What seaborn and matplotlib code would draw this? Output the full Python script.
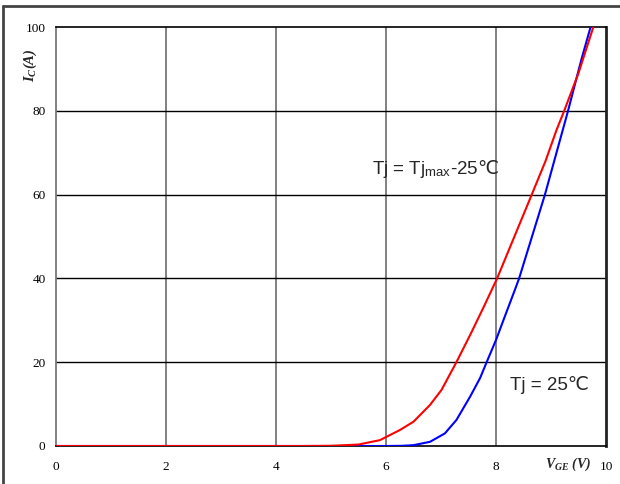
import numpy as np
import pandas as pd
import matplotlib
matplotlib.use("Agg")
import matplotlib.pyplot as plt
from matplotlib.lines import Line2D
import seaborn as sns

# transfer characteristic
vge_hot = [0, 4.5, 5.0, 5.5, 5.89, 6.01, 6.25, 6.5, 6.8, 7.01, 7.28, 7.53, 7.77,
           8.02, 8.65, 8.9, 9.1, 9.24, 9.5, 9.77]
ic_hot = [0, 0, 0.05, 0.35, 1.4, 2.2, 3.8, 5.8, 9.8, 13.4, 20, 26.5, 33,
          40, 60, 68, 75.4, 80, 89, 100]

vge_25 = [0, 6.0, 6.3, 6.5, 6.8, 7.07, 7.28, 7.53, 7.71, 7.83, 8.0, 8.16, 8.35, 8.42,
          8.89, 9.31, 9.56, 9.72]
ic_25 = [0, 0, 0.05, 0.2, 1.0, 3.0, 6.2, 11.8, 16.2, 20, 25.3, 30.9, 37.5, 40,
         60, 80, 92.6, 100]

xticks = [0, 2, 4, 6, 8, 10]
yticks = [0, 20, 40, 60, 80, 100]

sns.set_style("white")
plt.rcParams["font.family"] = ["Liberation Serif", "DejaVu Serif"]
plt.rcParams["mathtext.fontset"] = "custom"
plt.rcParams["mathtext.it"] = "Liberation Serif:italic:bold"
plt.rcParams["mathtext.rm"] = "Liberation Sans"

fig = plt.figure(figsize=(6.2, 4.84), dpi=100)
ax = fig.add_axes([56 / 620, 1 - 446 / 484, 550 / 620, 419 / 484])

hot = pd.DataFrame({"V": vge_hot, "I": ic_hot})
cold = pd.DataFrame({"V": vge_25, "I": ic_25})

# grid
for x in xticks[1:-1]:
    ax.axvline(x, color="#777777", lw=1.3, zorder=1)
for y in yticks[1:-1]:
    ax.axhline(y, color="black", lw=1.0, zorder=1)

sns.lineplot(data=cold, x="V", y="I", color="#0000ff", lw=1.5, ax=ax, zorder=3)
sns.lineplot(data=hot, x="V", y="I", color="#ff0000", lw=1.5, ax=ax, zorder=4)

ax.set_xlim(0, 10)
ax.set_ylim(0, 100)
ax.set_xticks(xticks)
ax.set_yticks(yticks)
ax.tick_params(length=0, labelsize=9.5, colors="black")
ax.tick_params(axis="x", pad=11)
ax.tick_params(axis="y", pad=7.5)
ax.set_xlabel("")
ax.set_ylabel("")

ax.spines["left"].set_color("#777777")
ax.spines["left"].set_linewidth(1.3)
ax.spines["bottom"].set_color("black")
ax.spines["bottom"].set_linewidth(1.2)
ax.spines["top"].set_color("black")
ax.spines["top"].set_linewidth(1.2)
ax.spines["right"].set_color("#222222")
ax.spines["right"].set_linewidth(2)

# axis labels placed like the original
fig.text(568 / 620, 1 - 464 / 484, r"$V_{GE}$ (V)", ha="center", va="center",
         fontsize=10, fontweight="bold", fontstyle="italic")
fig.text(30 / 620, 1 - 65 / 484, r"$I_{C}$(A)", ha="center", va="center",
         rotation=90, fontsize=10.5, fontweight="bold", fontstyle="italic")

# annotations (degree sign drawn separately, the mathtext fonts lack it)
sans = ["Liberation Sans", "DejaVu Sans"]
t1 = ax.text(5.745, 64.9, r"Tj = Tj$_{\mathrm{max}}$-25", ha="left", va="baseline",
             fontsize=13.5, family=sans)
fig.canvas.draw()
bb = t1.get_window_extent()
x_end = ax.transData.inverted().transform((bb.x1 - 1, 0))[0]
ax.text(x_end, 64.9, "℃", ha="left", va="baseline", fontsize=13.5, family=sans)
ax.text(8.25, 13.3, "Tj = 25℃", ha="left", va="baseline", fontsize=13.5, family=sans)

# frame around the figure
fig.add_artist(Line2D([3 / 620, 3 / 620], [0, 1 - 6 / 484], color="#444444", lw=2))
fig.add_artist(Line2D([3 / 620, 1], [1 - 6 / 484, 1 - 6 / 484], color="#444444", lw=2))

fig.savefig("out.png", dpi=100)
